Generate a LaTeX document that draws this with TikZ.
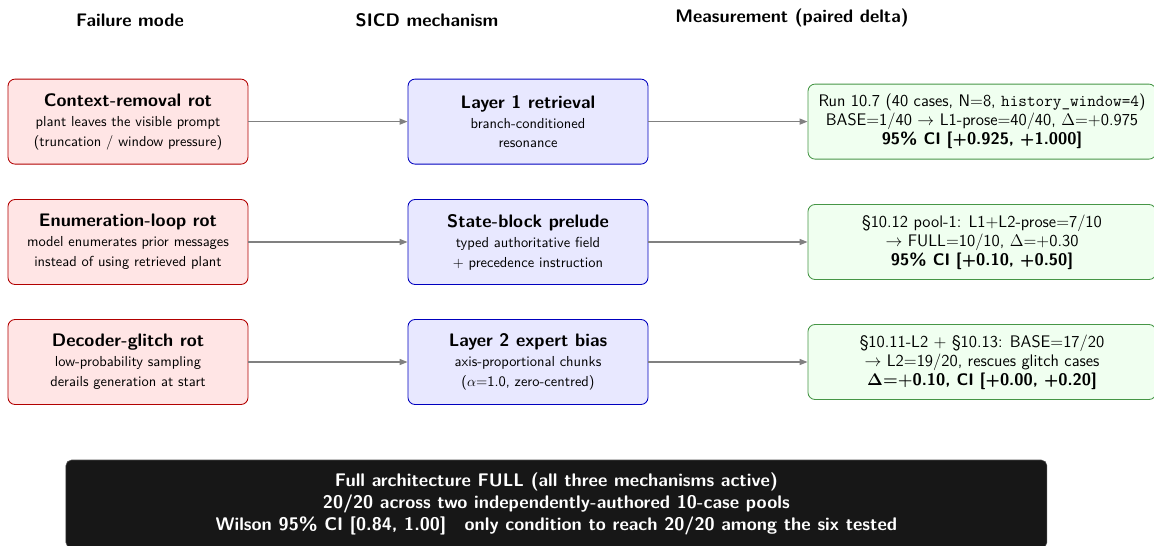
\documentclass[tikz,border=0pt]{standalone}
\usepackage{amsmath,amssymb}
\usepackage{tikz}
\usetikzlibrary{arrows.meta, positioning}
\renewcommand{\familydefault}{\sfdefault}

% sizes used in the boxes
\newcommand{\ttlsize}{\fontsize{12.9}{15.5}\selectfont}
\newcommand{\subsize}{\fontsize{10.3}{14.2}\selectfont}

\begin{document}
\begin{tikzpicture}[
  font=\subsize,
  hdr/.style={font=\ttlsize\bfseries, inner sep=1pt},
  fail/.style={draw=red!70!black, fill=red!10, rounded corners=5pt, align=center, minimum width=6cm, minimum height=2.125cm, line width=0.6pt},
  mech/.style={draw=blue!75!black, fill=blue!9, rounded corners=5pt, align=center, minimum width=6cm, minimum height=2.125cm, line width=0.6pt},
  meas/.style={draw={rgb,255:red,70;green,150;blue,70}, fill=green!6, rounded corners=5pt, align=center, minimum width=8.7cm, minimum height=1.875cm, line width=0.6pt, font=\fontsize{11.9}{13.5}\selectfont},
  full/.style={draw=gray!60!black, fill=black!91, rounded corners=4pt, align=center, minimum width=24.525cm, minimum height=2.2cm, text=white, font=\fontsize{13}{15.6}\selectfont\bfseries},
  arr/.style={-{Triangle[length=2mm, width=1.5mm]}, draw=gray, line width=0.9pt},
]
\useasboundingbox (0,0) rectangle (28.85,-13.65);

% ---- column headers
\node[hdr] (h1) at (3.25,-0.5) {Failure mode};
\node[hdr] (h2) at (10.675,-0.5) {SICD mechanism};
\node[hdr] (h3) at (19.8,-0.45) {Measurement (paired delta)};

% ---- failure modes
\node[fail] (fm1) at (3.2,-3.04) {{\ttlsize\bfseries Context-removal rot}\\ plant leaves the visible prompt\\ (truncation / window pressure)};
\node[fail] (fm2) at (3.2,-6.05) {{\ttlsize\bfseries Enumeration-loop rot}\\ model enumerates prior messages\\ instead of using retrieved plant};
\node[fail] (fm3) at (3.2,-9.05) {{\ttlsize\bfseries Decoder-glitch rot}\\ low-probability sampling\\ derails generation at start};

% ---- mechanisms
\node[mech] (mc1) at (13.2,-3.04) {{\ttlsize\bfseries Layer 1 retrieval}\\ branch-conditioned\\ resonance};
\node[mech] (mc2) at (13.2,-6.05) {{\ttlsize\bfseries State-block prelude}\\ typed authoritative field\\ $+$ precedence instruction};
\node[mech] (mc3) at (13.2,-9.05) {{\ttlsize\bfseries Layer 2 expert bias}\\ axis-proportional chunks\\ ($\alpha$=1.0, zero-centred)};

% ---- measurements
\node[meas] (ms1) at (24.55,-3.04) {Run 10.7 (40 cases, N$=$8, \texttt{history\_window=4})\\ BASE$=$1/40 $\rightarrow$ L1-prose$=$40/40, $\Delta{=}{+}$0.975\\ \textbf{95\% CI [+0.925, +1.000]}};
\node[meas] (ms2) at (24.55,-6.05) {\S10.12 pool-1: L1$+$L2-prose$=$7/10\\ $\rightarrow$ FULL$=$10/10, $\Delta{=}{+}$0.30\\ \textbf{95\% CI [+0.10, +0.50]}};
\node[meas] (ms3) at (24.55,-9.05) {\S10.11-L2 $+$ \S10.13: BASE$=$17/20\\ $\rightarrow$ L2$=$19/20, rescues glitch cases\\ \textbf{\boldmath$\Delta{=}{+}$0.10, CI [+0.00, +0.20]}};

% ---- combined result
\node[full] (res) at (13.91,-12.6) {Full architecture FULL (all three mechanisms active)\\ 20/20 across two independently-authored 10-case pools\\ Wilson 95\% CI [0.84, 1.00]\quad only condition to reach 20/20 among the six tested};

% ---- flow
\foreach \i in {1,2,3} {
  \draw[arr] (fm\i) -- (mc\i);
  \draw[arr] (mc\i) -- (ms\i);
}
\end{tikzpicture}
\end{document}
